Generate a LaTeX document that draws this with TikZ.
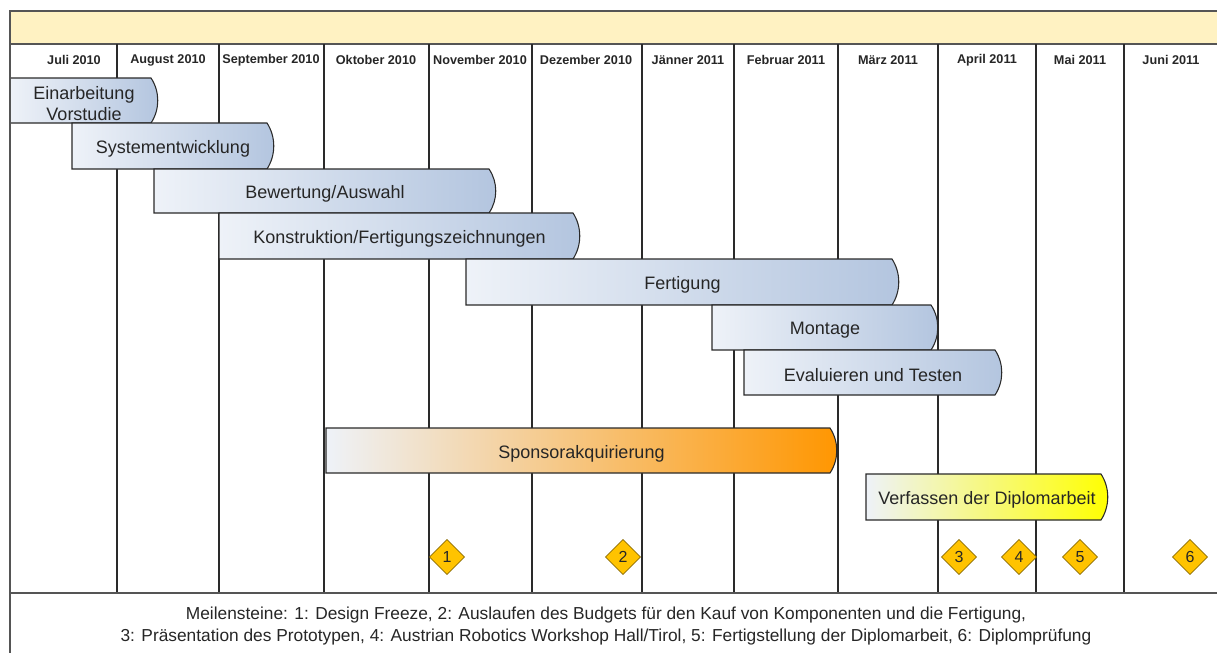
\documentclass[tikz,border=0pt]{standalone}
\usepackage{fontspec}
\setmainfont{Liberation Sans}
\usetikzlibrary{shapes.geometric}

\definecolor{headfill}{HTML}{FFF2C2}
\definecolor{frameline}{HTML}{555555}
\definecolor{gridline}{HTML}{2A2A2A}
\definecolor{barleft}{HTML}{EEF2F8}
\definecolor{barright}{HTML}{B3C5DF}
\definecolor{sponsorright}{HTML}{FF9600}
\definecolor{thesisright}{HTML}{FFFF00}
\definecolor{msfill}{HTML}{FFC300}
\definecolor{msline}{HTML}{6E5500}

\newcommand{\ganttbar}[7]{%
  \shadedraw[taskbar,right color=#6] (#2,#4) -- ({#3-7},#4)
    .. controls ({#3+2},{#4+0.3*(#5-#4)}) and ({#3+2},{#5-0.3*(#5-#4)}) .. ({#3-7},#5)
    -- (#2,#5) -- cycle;
  \node[tasklabel] (#1) at ({(#2+#3)/2},{(#4+#5)/2+3}) {#7};
}

\begin{document}
\begin{tikzpicture}[x=0.75pt,y=-0.75pt,
    taskbar/.style={draw=gridline,line width=0.8pt,left color=barleft},
    tasklabel/.style={font=\fontsize{13.5}{15.75}\selectfont,align=center,text=black!85},
    month/.style={font=\fontsize{9.5}{11}\selectfont\bfseries,text=black!85},
    milestone/.style={draw=msline,fill=msfill,diamond,minimum width=26.5pt,minimum height=26.5pt,inner sep=0pt,text=black!85,font=\fontsize{12}{14}\selectfont}]
        \useasboundingbox (0,0) rectangle (1217,653);
        \clip (0,0) rectangle (1217,653);

        % header band
        \draw[frameline,line width=1.2pt,fill=headfill] (10,11) rectangle (1230,44);

        % month columns
        \draw[gridline,line width=0.8pt] (117,44) -- (117,593);
        \draw[gridline,line width=0.8pt] (219,44) -- (219,593);
        \draw[gridline,line width=0.8pt] (324,44) -- (324,593);
        \draw[gridline,line width=0.8pt] (429,44) -- (429,593);
        \draw[gridline,line width=0.8pt] (532,44) -- (532,593);
        \draw[gridline,line width=0.8pt] (642,44) -- (642,593);
        \draw[gridline,line width=0.8pt] (734,44) -- (734,593);
        \draw[gridline,line width=0.8pt] (838,44) -- (838,593);
        \draw[gridline,line width=0.8pt] (938,44) -- (938,593);
        \draw[gridline,line width=0.8pt] (1036,44) -- (1036,593);
        \draw[gridline,line width=0.8pt] (1124,44) -- (1124,593);

        \node[month] (jul10) at (74,60) {Juli 2010};
        \node[month] (aug10) at (168,60) {August 2010};
        \node[month] (sep10) at (271,60) {September 2010};
        \node[month] (okt10) at (376,60) {Oktober 2010};
        \node[month] (nov10) at (480,60) {November 2010};
        \node[month] (dez10) at (586,60) {Dezember 2010};
        \node[month] (jan11) at (688,60) {Jänner 2011};
        \node[month] (feb11) at (786,60) {Februar 2011};
        \node[month] (mar11) at (888,60) {März 2011};
        \node[month] (apr11) at (987,60) {April 2011};
        \node[month] (mai11) at (1080,60) {Mai 2011};
        \node[month] (jun11) at (1171,60) {Juni 2011};

        % tasks
        \ganttbar{einarbeitung}{10}{158}{78}{123}{barright}{Einarbeitung\\Vorstudie}
        \ganttbar{system}{72}{274}{123}{169}{barright}{Systementwicklung}
        \ganttbar{bewertung}{154}{496}{169}{213}{barright}{Bewertung/Auswahl}
        \ganttbar{konstruktion}{219}{580}{213}{259}{barright}{Konstruktion/Fertigungszeichnungen}
        \ganttbar{fertigung}{466}{899}{259}{305}{barright}{Fertigung}
        \ganttbar{montage}{712}{938}{305}{350}{barright}{Montage}
        \ganttbar{testen}{744}{1002}{350}{395}{barright}{Evaluieren und Testen}
        \ganttbar{sponsor}{326}{837}{428}{473}{sponsorright}{Sponsorakquirierung}
        \ganttbar{diplomarbeit}{866}{1108}{474}{520}{thesisright}{Verfassen der Diplomarbeit}

        % milestones
        \node[milestone] (m1) at (447,557) {1};
        \node[milestone] (m2) at (623,557) {2};
        \node[milestone] (m3) at (959,557) {3};
        \node[milestone] (m4) at (1019,557) {4};
        \node[milestone] (m5) at (1080,557) {5};
        \node[milestone] (m6) at (1190,557) {6};

        % frame and legend
        \draw[frameline,line width=1.2pt] (10,593) -- (1230,593);
        \draw[frameline,line width=1.2pt] (10,11) -- (10,660);
        \node[font=\fontsize{13}{16.5}\selectfont,align=center,text=black!85] (legende) at (606,626)
            {Meilensteine: 1: Design Freeze, 2: Auslaufen des Budgets für den Kauf von Komponenten und die Fertigung,\\
             3: Präsentation des Prototypen, 4: Austrian Robotics Workshop Hall/Tirol, 5: Fertigstellung der Diplomarbeit, 6: Diplomprüfung};
    \end{tikzpicture}
\end{document}
